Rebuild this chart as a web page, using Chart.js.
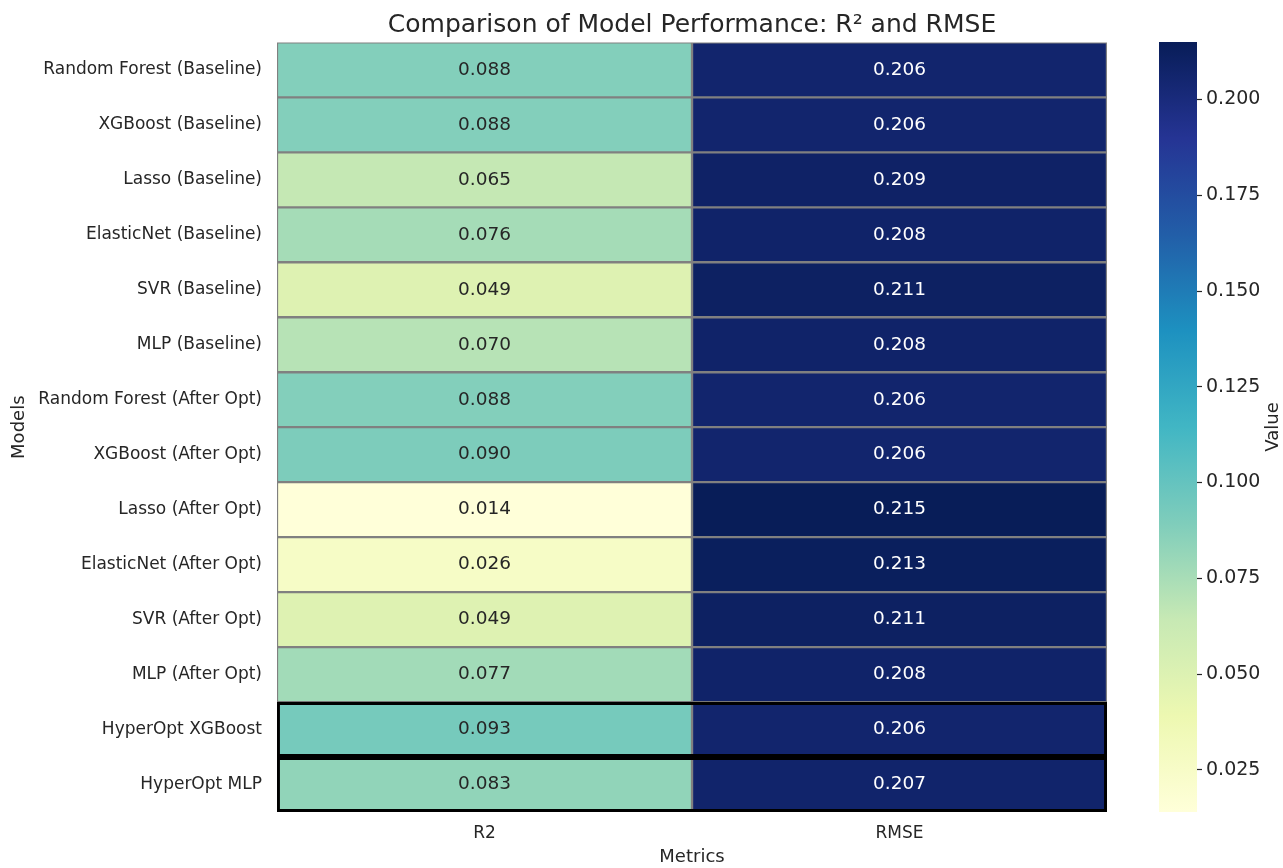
<!DOCTYPE html>
<html>
<head>
<meta charset="utf-8">
<title>Comparison of Model Performance</title>
<script src="https://cdn.jsdelivr.net/npm/chart.js@4.4.1/dist/chart.umd.min.js"></script>
<style>
  html, body { margin: 0; padding: 0; background: #ffffff; }
  #wrap { position: relative; width: 1283px; height: 868px; overflow: hidden; }
  #heat { position: absolute; left: 0; top: 0; }
  #cbar { position: absolute; left: 1140px; top: 0; }
</style>
</head>
<body>
<div id="wrap">
  <canvas id="heat" width="1140" height="868"></canvas>
  <canvas id="cbar" width="143" height="868"></canvas>
</div>
<script>
// Models (rows, top to bottom)
const models = [
  'Random Forest (Baseline)',
  'XGBoost (Baseline)',
  'Lasso (Baseline)',
  'ElasticNet (Baseline)',
  'SVR (Baseline)',
  'MLP (Baseline)',
  'Random Forest (After Opt)',
  'XGBoost (After Opt)',
  'Lasso (After Opt)',
  'ElasticNet (After Opt)',
  'SVR (After Opt)',
  'MLP (After Opt)',
  'HyperOpt XGBoost',
  'HyperOpt MLP'
];

// Metric columns
const metrics = ['R2', 'RMSE'];

// Metric values per model
const r2Values   = [0.088, 0.088, 0.065, 0.076, 0.049, 0.070, 0.088, 0.090, 0.014, 0.026, 0.049, 0.077, 0.093, 0.083];
const rmseValues = [0.206, 0.206, 0.209, 0.208, 0.211, 0.208, 0.206, 0.206, 0.215, 0.213, 0.211, 0.208, 0.206, 0.207];

// Rows outlined in black
const highlighted = ['HyperOpt XGBoost', 'HyperOpt MLP'];

// Colour bar tick values
const colorbarTicks = [0.025, 0.050, 0.075, 0.100, 0.125, 0.150, 0.175, 0.200];

// YlGnBu colour map stops
const YLGNBU = ['#ffffd9', '#edf8b1', '#c7e9b4', '#7fcdbb', '#41b6c4', '#1d91c0', '#225ea8', '#253494', '#081d58'];

const TEXT = '#262626';
const FONT = "'DejaVu Sans', 'Liberation Sans', sans-serif";

const allValues = r2Values.concat(rmseValues);
const vmin = Math.min(...allValues);
const vmax = Math.max(...allValues);

function hexToRgb(h) {
  return [parseInt(h.slice(1, 3), 16), parseInt(h.slice(3, 5), 16), parseInt(h.slice(5, 7), 16)];
}
const STOPS = YLGNBU.map(hexToRgb);

function cmap(v) {
  let t = (v - vmin) / (vmax - vmin);
  t = Math.max(0, Math.min(1, t));
  const pos = t * (STOPS.length - 1);
  const i = Math.min(Math.floor(pos), STOPS.length - 2);
  const f = pos - i;
  const a = STOPS[i], b = STOPS[i + 1];
  return [0, 1, 2].map(k => Math.round(a[k] + (b[k] - a[k]) * f));
}
function rgbStr(c) { return `rgb(${c[0]},${c[1]},${c[2]})`; }

// Pick dark or white annotation text from the cell's relative luminance
function textColorFor(c) {
  const lin = c.map(x => {
    x /= 255;
    return x <= 0.03928 ? x / 12.92 : Math.pow((x + 0.055) / 1.055, 2.4);
  });
  const lum = 0.2126 * lin[0] + 0.7152 * lin[1] + 0.0722 * lin[2];
  return lum > 0.408 ? TEXT : '#ffffff';
}

const columnValues = [r2Values, rmseValues];

// One dataset per metric column: each cell spans [col, col + 1] on the x scale
const cellDatasets = columnValues.map((vals, col) => ({
  label: metrics[col],
  data: vals.map(() => [col, col + 1]),
  values: vals,
  backgroundColor: vals.map(v => rgbStr(cmap(v))),
  borderColor: '#808080',
  borderWidth: 1.5,
  borderSkipped: false,
  grouped: false,
  barPercentage: 1,
  categoryPercentage: 1,
  order: 1
}));

// Outline spanning both columns for the highlighted rows
const outlineDataset = {
  label: 'highlight',
  data: models.map(m => highlighted.includes(m) ? [0, metrics.length] : null),
  backgroundColor: 'rgba(0,0,0,0)',
  borderColor: '#000000',
  borderWidth: 2.6,
  borderSkipped: false,
  grouped: false,
  barPercentage: 1,
  categoryPercentage: 1,
  order: 0
};

// Writes each cell's value at its centre
const cellLabels = {
  id: 'cellLabels',
  afterDatasetsDraw(chart) {
    const ctx = chart.ctx;
    ctx.save();
    ctx.font = `18.5px ${FONT}`;
    ctx.textAlign = 'center';
    ctx.textBaseline = 'middle';
    chart.data.datasets.forEach((ds, di) => {
      if (!ds.values) return;
      const meta = chart.getDatasetMeta(di);
      meta.data.forEach((el, i) => {
        const v = ds.values[i];
        const p = el.getCenterPoint();
        ctx.fillStyle = textColorFor(cmap(v));
        ctx.fillText(v.toFixed(3), p.x, p.y);
      });
    });
    ctx.restore();
  }
};

new Chart(document.getElementById('heat'), {
  type: 'bar',
  data: {
    labels: models,
    datasets: [outlineDataset, ...cellDatasets]
  },
  plugins: [cellLabels],
  options: {
    indexAxis: 'y',
    responsive: false,
    animation: false,
    events: [],
    layout: { padding: { top: 0, right: 33, bottom: 0, left: 0 } },
    plugins: {
      legend: { display: false },
      tooltip: { enabled: false },
      title: {
        display: true,
        text: 'Comparison of Model Performance: R\u00b2 and RMSE',
        color: TEXT,
        fullSize: false,
        font: { family: FONT, size: 25, weight: 'normal', lineHeight: 1.2 },
        padding: { top: 10, bottom: 2.4 }
      }
    },
    scales: {
      x: {
        type: 'linear',
        min: 0,
        max: metrics.length,
        afterBuildTicks(scale) {
          scale.ticks = metrics.map((m, i) => ({ value: i + 0.5 }));
        },
        afterFit(scale) { scale.height = 56; },
        grid: { display: false, drawTicks: false },
        border: { display: false },
        ticks: {
          padding: 11.8,
          color: TEXT,
          font: { family: FONT, size: 17 },
          callback: (v) => metrics[Math.floor(v)]
        },
        title: {
          display: true,
          text: 'Metrics',
          color: TEXT,
          font: { family: FONT, size: 18, lineHeight: 1.2 },
          padding: { top: 0, bottom: 0 }
        }
      },
      y: {
        type: 'category',
        afterFit(scale) { scale.width = 277; },
        grid: { display: false, drawTicks: false },
        border: { display: false },
        ticks: {
          padding: 15,
          color: TEXT,
          font: { family: FONT, size: 17 }
        },
        title: {
          display: true,
          text: 'Models',
          color: TEXT,
          font: { family: FONT, size: 18, lineHeight: 1.2 },
          padding: { top: 9, bottom: 0 }
        }
      }
    }
  }
});

// Colour bar: one bar spanning the full value range, filled with the colour map
const colorbarLabel = {
  id: 'colorbarLabel',
  afterDraw(chart) {
    const ctx = chart.ctx;
    const a = chart.chartArea;
    ctx.save();
    ctx.translate(133, (a.top + a.bottom) / 2);
    ctx.rotate(-Math.PI / 2);
    ctx.font = `18px ${FONT}`;
    ctx.fillStyle = TEXT;
    ctx.textAlign = 'center';
    ctx.textBaseline = 'middle';
    ctx.fillText('Value', 0, 0);
    ctx.restore();
  }
};

new Chart(document.getElementById('cbar'), {
  type: 'bar',
  data: {
    labels: ['Value'],
    datasets: [{
      data: [[vmin, vmax]],
      backgroundColor(context) {
        const chart = context.chart;
        const a = chart.chartArea;
        if (!a) return YLGNBU[4];
        const g = chart.ctx.createLinearGradient(0, a.bottom, 0, a.top);
        YLGNBU.forEach((c, i) => g.addColorStop(i / (YLGNBU.length - 1), c));
        return g;
      },
      borderWidth: 0,
      barPercentage: 1,
      categoryPercentage: 1
    }]
  },
  plugins: [colorbarLabel],
  options: {
    responsive: false,
    animation: false,
    events: [],
    layout: { padding: { top: 42, bottom: 56, left: 19, right: 0 } },
    plugins: { legend: { display: false }, tooltip: { enabled: false } },
    scales: {
      x: { display: false },
      y: {
        position: 'right',
        min: vmin,
        max: vmax,
        afterBuildTicks(scale) {
          scale.ticks = colorbarTicks.map(v => ({ value: v }));
        },
        afterFit(scale) { scale.width = 86; },
        grid: {
          drawOnChartArea: false,
          drawTicks: true,
          tickLength: 5,
          tickColor: TEXT,
          tickWidth: 1.2
        },
        border: { display: false },
        ticks: {
          padding: 4,
          color: TEXT,
          font: { family: FONT, size: 19 },
          callback: (v) => v.toFixed(3)
        }
      }
    }
  }
});
</script>
</body>
</html>
